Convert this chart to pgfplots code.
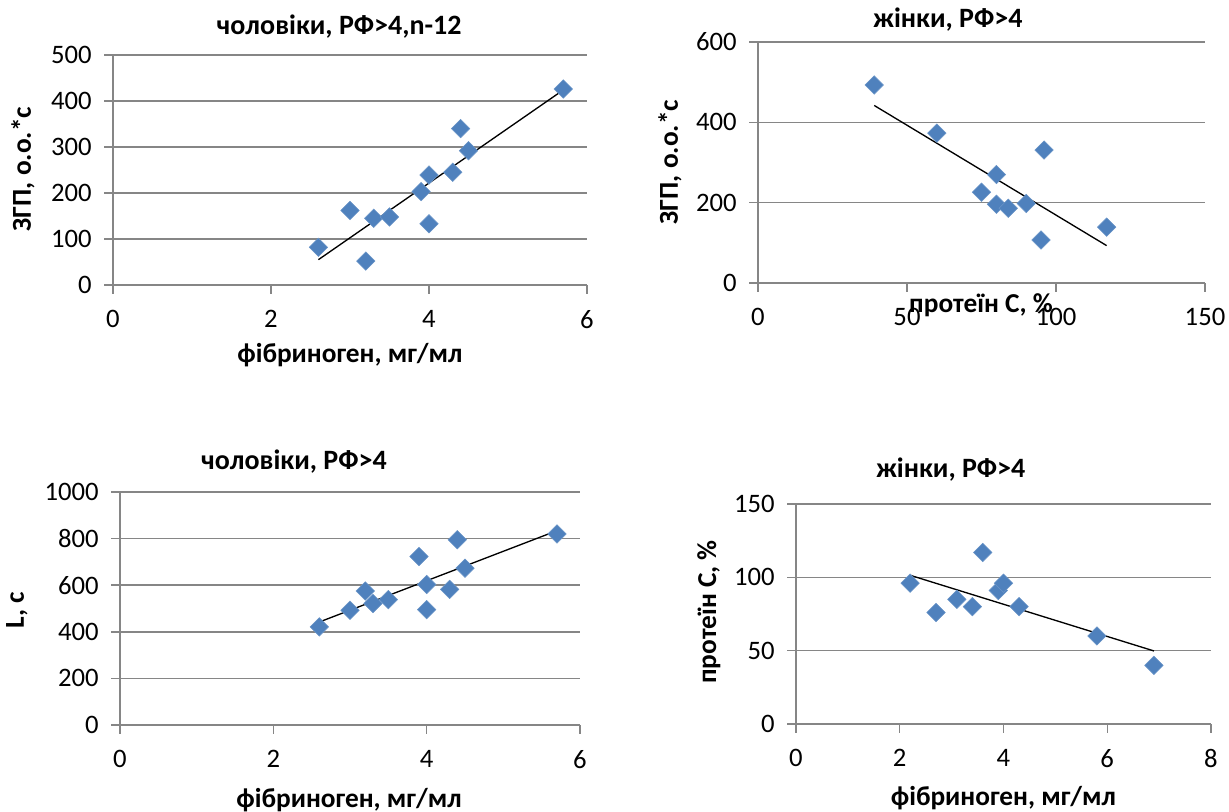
\documentclass[border=0pt]{standalone}
\usepackage{fontspec}
\setmainfont{Carlito}
\usepackage{pgfplots}
\pgfplotsset{compat=1.18}
\definecolor{mk}{HTML}{4F81BD}
\definecolor{gr}{HTML}{868686}
\pgfplotsset{
  exc/.style={
    scale only axis,
    axis lines=left, axis line style={-, gr, line width=1.1pt},
    ymajorgrids, grid style={gr, line width=1.1pt},
    tick align=outside, major tick length=6.5pt, tick style={gr, line width=1.1pt},
    ticklabel style={font=\fontsize{20}{20}\selectfont},
    yticklabel style={xshift=-6pt},
    xticklabel style={yshift=-9pt},
    /pgf/number format/assume math mode=true,
    /pgf/number format/1000 sep={},
    title style={font=\bfseries\fontsize{21}{21}\selectfont, anchor=center, yshift=-6pt},
    label style={font=\bfseries\fontsize{20.5}{20.5}\selectfont},
    clip=false,
  },
  pts/.style={only marks, mark=square*, mark size=4.9pt, mark options={rotate=45, fill=mk, draw=mk!85!white}},
  trend/.style={black, line width=1pt, no marks},
}
\begin{document}
\begin{tikzpicture}
\path[use as bounding box] (0,0) rectangle (921.75pt,609pt);
% Panel 1
\begin{axis}[exc, at={(84.75pt,395.25pt)}, anchor=south west,
  width=355.5pt, height=172.5pt,
  xmin=0, xmax=6, ymin=0, ymax=500,
  xtick={0,2,4,6}, ytick={0,100,...,500},
  title={чоловіки, РФ>4,n-12}, title style={at={(axis description cs:0.477,1.122)}},
  xlabel={фібриноген, мг/мл}, xlabel style={at={(axis description cs:0.5,-0.304)}, anchor=center},
  ylabel={ЗГП, о.о.*с}, ylabel style={at={(axis description cs:-0.19,0.504)}, anchor=center},
]
\addplot[pts] coordinates {(2.6,82) (3.0,162) (3.2,52) (3.3,145) (3.5,148) (3.9,203) (4.0,239) (4.0,133) (4.3,245) (4.4,340) (4.5,292) (5.7,426)};
\addplot[trend] coordinates {(2.6,55) (5.7,424)};
\end{axis}
% Panel 2
\begin{axis}[exc, at={(568.5pt,396.75pt)}, anchor=south west,
  width=335.25pt, height=180.75pt,
  xmin=0, xmax=150, ymin=0, ymax=600,
  xtick={0,50,100,150}, ytick={0,200,400,600},
  title={жінки, РФ>4}, title style={at={(axis description cs:0.425,1.091)}},
  xlabel={протеїн С, \%}, xlabel style={at={(axis description cs:0.499,-0.091)}, anchor=center},
  ylabel={ЗГП, о.о.*с}, ylabel style={at={(axis description cs:-0.197,0.502)}, anchor=center},
]
\addplot[pts] coordinates {(39,493) (60,373) (75,226) (80,270) (80,196) (84,186) (90,198) (96,331) (95,107) (117,139)};
\addplot[trend] coordinates {(39,442) (117,93)};
\end{axis}
% Panel 3
\begin{axis}[exc, at={(90pt,65.25pt)}, anchor=south west,
  width=345pt, height=174.75pt,
  xmin=0, xmax=6, ymin=0, ymax=1000,
  xtick={0,2,4,6}, ytick={0,200,...,1000},
  title={чоловіки, РФ>4}, title style={at={(axis description cs:0.378,1.129)}},
  xlabel={фібриноген, мг/мл}, xlabel style={at={(axis description cs:0.498,-0.322)}, anchor=center},
  ylabel={L, с}, ylabel style={at={(axis description cs:-0.224,0.494)}, anchor=center},
]
\addplot[pts] coordinates {(2.6,421) (3.0,492) (3.2,575) (3.3,521) (3.5,538) (3.9,723) (4.0,603) (4.0,495) (4.3,582) (4.4,795) (4.5,673) (5.7,820)};
\addplot[trend] coordinates {(2.6,442) (5.7,834)};
\end{axis}
% Panel 4
\begin{axis}[exc, at={(597pt,66pt)}, anchor=south west,
  width=311.25pt, height=165pt,
  xmin=0, xmax=8, ymin=0, ymax=150,
  xtick={0,2,4,6,8}, ytick={0,50,100,150},
  title={жінки, РФ>4}, title style={at={(axis description cs:0.373,1.155)}},
  xlabel={фібриноген, мг/мл}, xlabel style={at={(axis description cs:0.5,-0.336)}, anchor=center},
  ylabel={протеїн С, \%}, ylabel style={at={(axis description cs:-0.21,0.509)}, anchor=center},
]
\addplot[pts] coordinates {(2.2,96) (2.7,76) (3.1,85) (3.4,80) (3.6,117) (3.9,91) (4.0,96) (4.3,80) (5.8,60) (6.9,40)};
\addplot[trend] coordinates {(2.2,101.4) (6.9,49.8)};
\end{axis}
\end{tikzpicture}
\end{document}
